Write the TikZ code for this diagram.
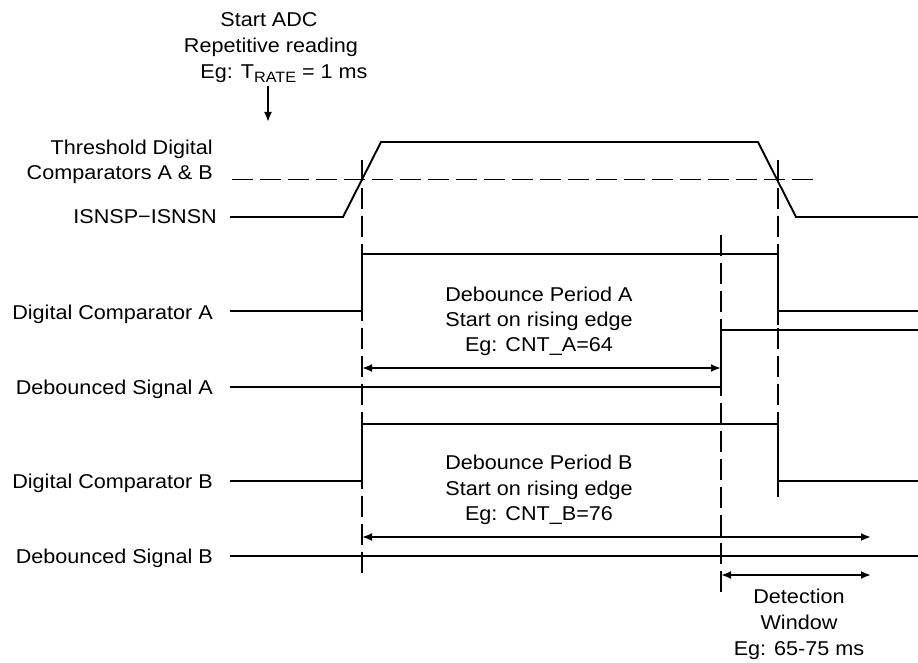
\documentclass[tikz,border=0pt]{standalone}
\usepackage{fontspec}
\setmainfont{Liberation Sans}[FakeStretch=1.08]
\usetikzlibrary{arrows.meta}
\tikzset{
  wave/.style={line width=1.9pt, line join=miter},
  guide/.style={line width=1.9pt, dash pattern=on 21pt off 7pt},
  lbl/.style={inner sep=0pt, font=\fontsize{20}{25.5}\selectfont},
  dimarrow/.style={line width=1.9pt, {Latex[length=10pt,width=8pt]}-{Latex[length=10pt,width=8pt]}},
  onearrow/.style={line width=1.9pt, -{Latex[length=10pt,width=8pt]}}
}
\begin{document}
\begin{tikzpicture}[x=1pt,y=-1pt]
\useasboundingbox (0,0) rectangle (918,663);
% top annotation
\node[lbl, anchor=base] (t1) at (269,26.7) {Start ADC};
\node[lbl, anchor=base] (t2) at (271,53) {Repetitive reading};
\node[lbl, anchor=base] (t3) at (284,79) {Eg: T{\fontsize{15}{15}\selectfont\raisebox{-3.5pt}{RATE}} = 1 ms};
\coordinate (sa1) at (268,86);
\coordinate (sa2) at (268,122);
\draw[onearrow] (sa1) -- (sa2);
% left labels
\node[lbl, anchor=base east] (l1) at (213,155) {Threshold Digital};
\node[lbl, anchor=base east] (l2) at (213,180) {Comparators A \& B};
\node[lbl, anchor=base east] (l3) at (217,224) {ISNSP−ISNSN};
\node[lbl, anchor=base east] (l4) at (213,319) {Digital Comparator A};
\node[lbl, anchor=base east] (l5) at (213,394) {Debounced Signal A};
\node[lbl, anchor=base east] (l6) at (213,488) {Digital Comparator B};
\node[lbl, anchor=base east] (l7) at (213,563.5) {Debounced Signal B};
% guides
\coordinate (th1) at (232,179.5); \coordinate (th2) at (816,179.5);
\draw[guide] (th1) -- (th2);
\coordinate (g1a) at (362,160); \coordinate (g1b) at (362,575);
\coordinate (g2a) at (778,160); \coordinate (g2b) at (778,424);
\coordinate (g3a) at (721,235); \coordinate (g3b) at (721,593);
\draw[guide] (g1a) -- (g1b);
\draw[guide] (g2a) -- (g2b);
\draw[guide] (g3a) -- (g3b);
% ISNSP-ISNSN
\draw[wave] (230,217) -- (343,217) -- (381,142) -- (758,142) -- (796,217) -- (918,217);
% Comparator A
\draw[wave] (230,311) -- (362,311) -- (362,254) -- (778,254) -- (778,325);
\draw[wave] (778,311) -- (918,311);
% Debounced A
\draw[wave] (230,387) -- (721,387) -- (721,322);
\draw[wave] (721,330) -- (918,330);
\coordinate (aa1) at (362,368); \coordinate (aa2) at (721,368);
\draw[dimarrow] (aa1) -- (aa2);
% Comparator B
\draw[wave] (230,481) -- (362,481) -- (362,424) -- (778,424) -- (778,497);
\draw[wave] (778,481) -- (918,481);
\coordinate (ab1) at (362,537); \coordinate (ab2) at (871,537);
\draw[dimarrow] (ab1) -- (ab2);
% Debounced B
\draw[wave] (230,556) -- (918,556);
\coordinate (dw1) at (721,575); \coordinate (dw2) at (871,575);
\draw[dimarrow] (dw1) -- (dw2);
% middle texts
\node[lbl, anchor=base] (pa1) at (539,301) {Debounce Period A};
\node[lbl, anchor=base] (pa2) at (539,326) {Start on rising edge};
\node[lbl, anchor=base] (pa3) at (539,351) {Eg: CNT\_A=64};
\node[lbl, anchor=base] (pb1) at (539,469) {Debounce Period B};
\node[lbl, anchor=base] (pb2) at (539,495) {Start on rising edge};
\node[lbl, anchor=base] (pb3) at (539,520) {Eg: CNT\_B=76};
\node[lbl, anchor=base] (d1) at (799,603) {Detection};
\node[lbl, anchor=base] (d2) at (799,629) {Window};
\node[lbl, anchor=base] (d3) at (799,655) {Eg: 65-75 ms};
\end{tikzpicture}
\end{document}
